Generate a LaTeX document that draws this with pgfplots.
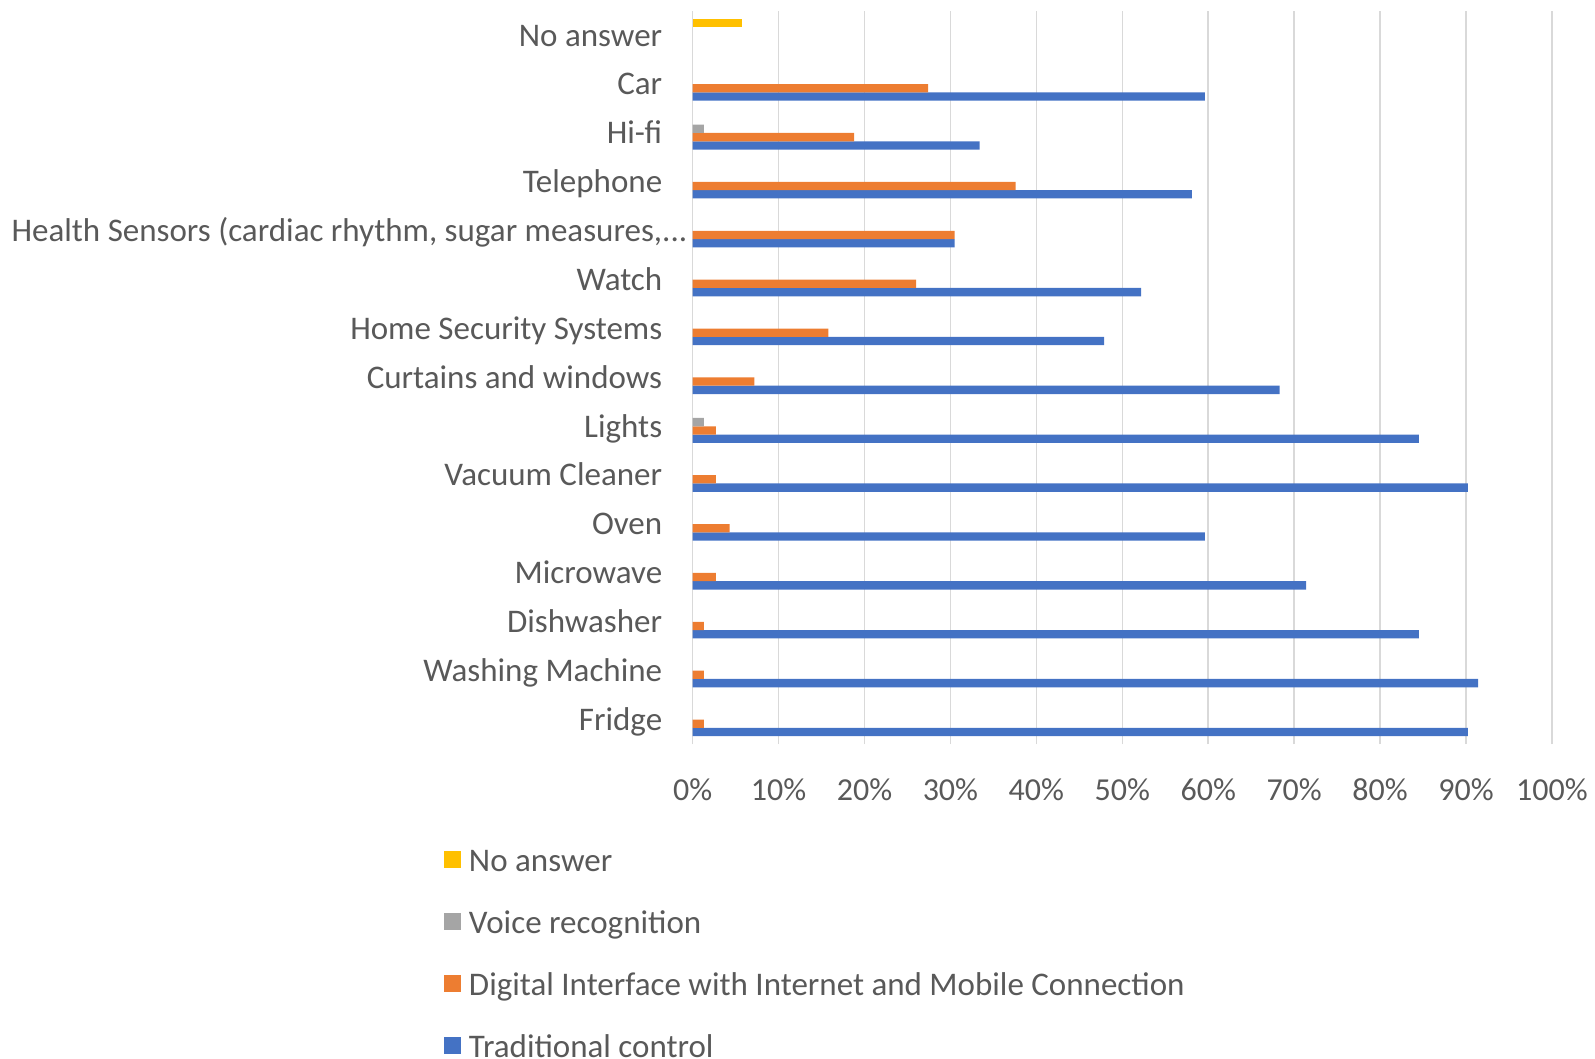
\documentclass[border=0pt]{standalone}
\usepackage{fontspec}
\setmainfont{Carlito}
\usepackage{pgfplots}
\pgfplotsset{compat=1.18}
\definecolor{cblue}{HTML}{4472C4}
\definecolor{corange}{HTML}{ED7D31}
\definecolor{cgray}{HTML}{A5A5A5}
\definecolor{cyellow}{HTML}{FFC000}
\definecolor{labelgray}{HTML}{595959}
\definecolor{gridgray}{HTML}{D9D9D9}
\begin{document}
\begin{tikzpicture}
\path[use as bounding box] (-346.3pt,-157.5pt) rectangle (451.2pt,372pt);
\begin{axis}[
  at={(0pt,0pt)}, anchor=south west,
  scale only axis, width=429.7pt, height=366.6pt,
  xmin=0, xmax=100, ymin=-0.5, ymax=14.5,
  xtick={0,10,...,100},
  xticklabels={0\%,10\%,20\%,30\%,40\%,50\%,60\%,70\%,80\%,90\%,100\%},
  ytick={0,...,14},
  yticklabels={Fridge,Washing Machine,Dishwasher\ ,Microwave,Oven,Vacuum Cleaner,Lights,Curtains and windows,Home Security Systems,Watch,{Health Sensors (cardiac rhythm, sugar measures,\rlap{...}},Telephone,Hi-fi\ ,Car,No answer},
  axis lines*=left, axis line style={draw=none},
  major tick length=0pt,
  xmajorgrids, grid style={color=gridgray, line width=0.75pt},
  yticklabel style={anchor=base east, inner sep=0pt, xshift=-15pt, yshift=-5.4pt, font=\fontsize{16.5}{19}\selectfont, text=labelgray},
  xticklabel style={anchor=base, inner sep=0pt, yshift=-28pt, font=\fontsize{16}{18}\selectfont, text=labelgray},
  reverse legend,
  legend cell align=left,
  legend style={at={(0,0)}, anchor=north west, xshift=-124.3pt, yshift=-52.8pt,
    draw=none, fill=none, inner sep=0pt, outer sep=0pt, row sep=16pt, column sep=4pt,
    font=\fontsize{16.5}{19}\selectfont, text=labelgray,
    nodes={inner sep=0pt, text height=11pt, text depth=4pt}},
  legend image code/.code={\fill[#1,draw=none] (0pt,-1.6pt) rectangle (8.5pt,6.9pt);},
]
\addplot[xbar, bar width=0.17, bar shift=-0.255, fill=cblue, draw=none] coordinates {
 (90.2,0) (91.4,1) (84.5,2) (71.4,3) (59.6,4) (90.2,5) (84.5,6) (68.3,7)
 (47.9,8) (52.2,9) (30.5,10) (58.1,11) (33.4,12) (59.6,13)};
\addlegendentry{Traditional control}
\addplot[xbar, bar width=0.17, bar shift=-0.085, fill=corange, draw=none] coordinates {
 (1.3,0) (1.3,1) (1.3,2) (2.7,3) (4.3,4) (2.7,5) (2.7,6) (7.2,7)
 (15.8,8) (26.0,9) (30.5,10) (37.6,11) (18.8,12) (27.4,13)};
\addlegendentry{Digital Interface with Internet and Mobile Connection}
\addplot[xbar, bar width=0.17, bar shift=0.085, fill=cgray, draw=none] coordinates {
 (1.3,6) (1.3,12)};
\addlegendentry{Voice recognition}
\addplot[xbar, bar width=0.17, bar shift=0.255, fill=cyellow, draw=none] coordinates {
 (5.8,14)};
\addlegendentry{No answer}
\end{axis}
\end{tikzpicture}
\end{document}
